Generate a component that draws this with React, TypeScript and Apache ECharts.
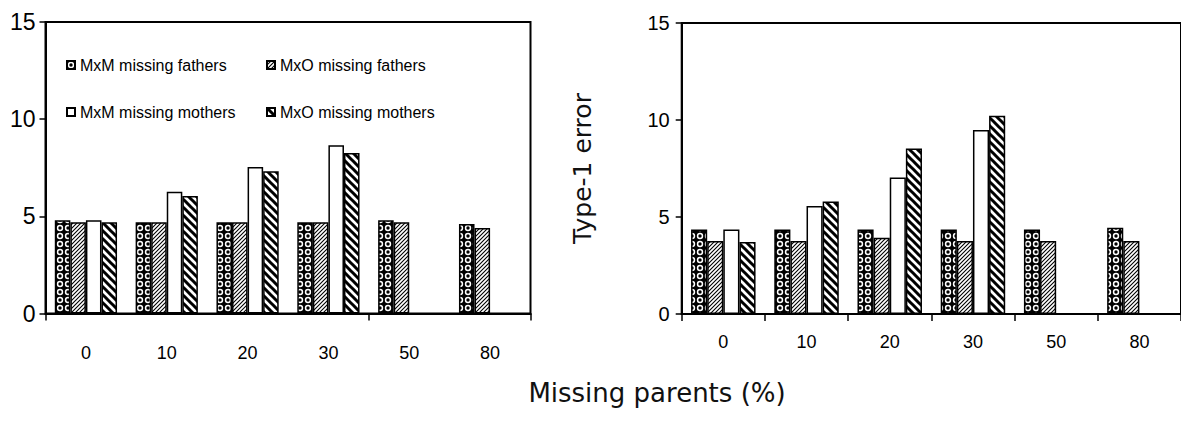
import React, { useEffect, useRef } from "react";
import * as echarts from "echarts";

const categories = ["0", "10", "20", "30", "50", "80"];
const seriesNames = ["MxM missing fathers", "MxO missing fathers", "MxM missing mothers", "MxO missing mothers"];

// left panel
const leftMxMFathers = [4.8, 4.7, 4.7, 4.7, 4.8, 4.6];
const leftMxOFathers = [4.7, 4.7, 4.7, 4.7, 4.7, 4.4];
const leftMxMMothers = [4.8, 6.26, 7.54, 8.66, null, null];
const leftMxOMothers = [4.7, 6.05, 7.32, 8.26, null, null];

// right panel
const rightMxMFathers = [4.35, 4.35, 4.35, 4.35, 4.35, 4.45];
const rightMxOFathers = [3.76, 3.76, 3.93, 3.76, 3.76, 3.76];
const rightMxMMothers = [4.35, 5.57, 7.03, 9.48, null, null];
const rightMxOMothers = [3.71, 5.8, 8.53, 10.22, null, null];

const yTicks = { min: 0, max: 15, interval: 5 };

function makeTile(size: number, draw: (ctx: CanvasRenderingContext2D) => void) {
  const c = document.createElement("canvas");
  c.width = size;
  c.height = size;
  const ctx = c.getContext("2d")!;
  draw(ctx);
  return { image: c, repeat: "repeat", imageWidth: size, imageHeight: size } as any;
}

function makePatterns() {
  const dots = makeTile(8, (ctx) => {
    ctx.fillStyle = "#000";
    ctx.fillRect(0, 0, 8, 8);
    ctx.fillStyle = "#fff";
    ctx.beginPath();
    ctx.arc(4, 4, 3.2, 0, Math.PI * 2);
    ctx.fill();
    ctx.fillStyle = "#000";
    ctx.beginPath();
    ctx.arc(4, 4, 1.7, 0, Math.PI * 2);
    ctx.fill();
  });
  const fwd = makeTile(4, (ctx) => {
    ctx.fillStyle = "#fff";
    ctx.fillRect(0, 0, 4, 4);
    ctx.strokeStyle = "#000";
    ctx.lineWidth = 1.1;
    ctx.beginPath();
    ctx.moveTo(-1, 5);
    ctx.lineTo(5, -1);
    ctx.moveTo(-1, 1);
    ctx.lineTo(1, -1);
    ctx.moveTo(3, 5);
    ctx.lineTo(5, 3);
    ctx.stroke();
  });
  const back = makeTile(8, (ctx) => {
    ctx.fillStyle = "#fff";
    ctx.fillRect(0, 0, 8, 8);
    ctx.strokeStyle = "#000";
    ctx.lineWidth = 3;
    ctx.beginPath();
    ctx.moveTo(-2, -2);
    ctx.lineTo(10, 10);
    ctx.moveTo(-2, 6);
    ctx.lineTo(2, 10);
    ctx.moveTo(6, -2);
    ctx.lineTo(10, 2);
    ctx.stroke();
  });
  return [dots, fwd, "#fff", back];
}

export default function App() {
  const ref = useRef<HTMLDivElement>(null);
  useEffect(() => {
    if (!ref.current) return;
    const chart = echarts.init(ref.current, null, { renderer: "svg" });
    const fills = makePatterns();
    const leftData = [leftMxMFathers, leftMxOFathers, leftMxMMothers, leftMxOMothers];
    const rightData = [rightMxMFathers, rightMxOFathers, rightMxMMothers, rightMxOMothers];
    const font = "Liberation Sans, Arial, sans-serif";
    const axisLine = { show: true, lineStyle: { color: "#000", width: 2 } };
    const tickStyle = { color: "#000", width: 1.5 };

    const mkSeries = (data: (number | null)[][], idx: number, gap: string) =>
      data.map((d, i) => ({
        type: "bar",
        name: seriesNames[i],
        xAxisIndex: idx,
        yAxisIndex: idx,
        data: d.map((v) => (v === null ? "-" : v)),
        barGap: "0%",
        barCategoryGap: gap,
        itemStyle: { color: fills[i], borderColor: "#000", borderWidth: 1.5 },
      }));

    const legendPos = [
      { left: 66, top: 57 },
      { left: 266, top: 57 },
      { left: 66, top: 104 },
      { left: 266, top: 104 },
    ];

    chart.setOption({
      animation: false,
      backgroundColor: "#fff",
      legend: seriesNames.map((n, i) => ({
        data: [n],
        left: legendPos[i].left,
        top: legendPos[i].top,
        padding: 0,
        itemWidth: 8,
        itemHeight: 8,
        icon: "rect",
        selectedMode: false,
        textStyle: { fontSize: 16, color: "#000", fontFamily: font },
      })),
      grid: [
        { left: 45.5, top: 22, width: 485, height: 291.5, show: true, borderColor: "#000", borderWidth: 2, containLabel: false },
        { left: 681.7, top: 23, width: 504, height: 291, show: true, borderColor: "#000", borderWidth: 2, containLabel: false },
      ],
      xAxis: [
        {
          type: "category",
          gridIndex: 0,
          data: categories,
          axisLine,
          axisTick: { show: true, length: 7, lineStyle: tickStyle, interval: (i: number) => i === 0 || i === 4 },
          axisLabel: { fontSize: 18, color: "#000", fontFamily: font, margin: 30 },
        },
        {
          type: "category",
          gridIndex: 1,
          data: categories,
          axisLine,
          axisTick: { show: true, length: 7, lineStyle: tickStyle },
          axisLabel: { fontSize: 18, color: "#000", fontFamily: font, margin: 19 },
        },
      ],
      yAxis: [
        {
          type: "value",
          gridIndex: 0,
          ...yTicks,
          axisLine,
          axisTick: { show: true, length: 6, lineStyle: tickStyle },
          splitLine: { show: false },
          axisLabel: { fontSize: 23, color: "#000", fontFamily: font, margin: 10 },
        },
        {
          type: "value",
          gridIndex: 1,
          ...yTicks,
          axisLine,
          axisTick: { show: true, length: 6, lineStyle: tickStyle },
          splitLine: { show: false },
          axisLabel: { fontSize: 20, color: "#000", fontFamily: font, margin: 12 },
          name: "Type-1 error",
          nameLocation: "middle",
          nameGap: 87,
          nameTextStyle: { fontSize: 25, color: "#111", fontFamily: "DejaVu Sans, sans-serif" },
        },
      ],
      graphic: [
        {
          type: "text",
          x: 657,
          y: 393,
          style: {
            text: "Missing parents (%)",
            fontSize: 26,
            fontFamily: "DejaVu Sans, sans-serif",
            fill: "#111",
            align: "center",
            verticalAlign: "middle",
          },
        },
      ],
      series: [...mkSeries(leftData, 0, "23%"), ...mkSeries(rightData, 1, "22.5%")],
    });
    return () => chart.dispose();
  }, []);
  return (
    <div
      ref={ref}
      style={{ position: "fixed", left: 0, top: 0, width: 1181, height: 427, background: "#fff" }}
    />
  );
}
